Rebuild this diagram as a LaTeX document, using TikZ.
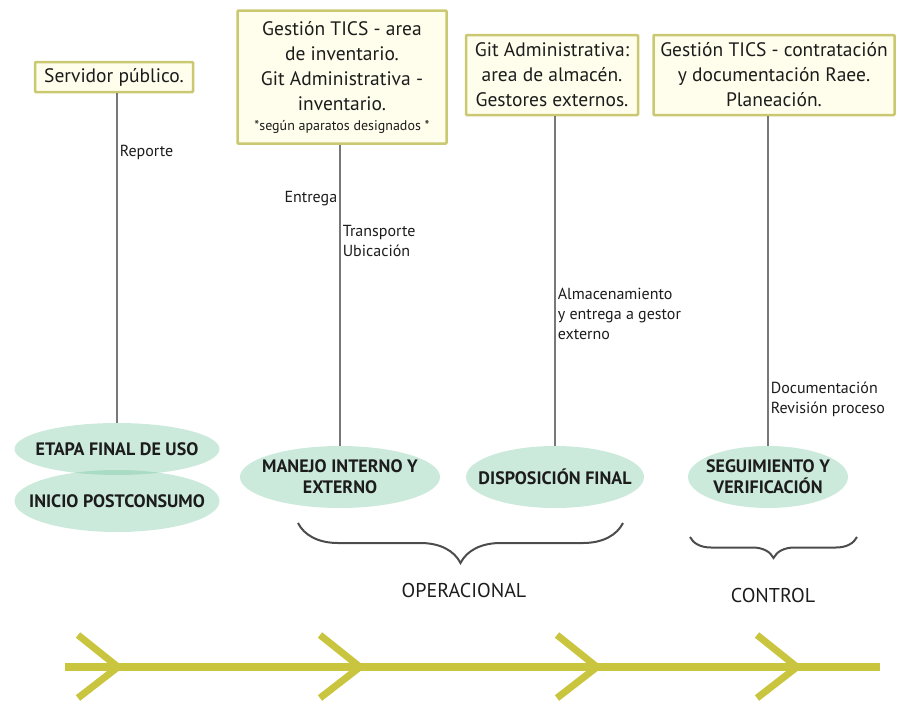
\documentclass[tikz,border=0pt]{standalone}
\usepackage{fontspec}
\setmainfont{PT Sans}
\usetikzlibrary{shapes.geometric, decorations.pathreplacing}

\definecolor{boxline}{RGB}{202,200,112}
\definecolor{boxfill}{RGB}{255,254,236}
\definecolor{mint}{RGB}{100,190,145}
\definecolor{spinecol}{RGB}{201,197,62}
\definecolor{ink}{RGB}{28,28,28}
\definecolor{wire}{RGB}{120,120,120}

\tikzstyle{actor} = [rectangle, rounded corners=1pt, draw=boxline, line width=2.5pt, fill=boxfill, text=ink, align=center, inner sep=2pt, font=\fontsize{19.5}{25}\selectfont]
\tikzstyle{stage} = [ellipse, fill=mint, fill opacity=0.33, text opacity=1, text=ink, align=center, inner xsep=-24pt, inner ysep=-14pt, font=\bfseries\fontsize{18}{21}\selectfont]
\tikzstyle{wirelabel} = [text=ink, align=left, font=\fontsize{16}{20}\selectfont, inner sep=2pt]
\tikzstyle{conn} = [draw=wire, line width=1.6pt]
\tikzstyle{bracket} = [draw=black!70, line width=2pt, decorate]
\tikzstyle{spine} = [draw=spinecol, line width=8pt]

\begin{document}
\begin{tikzpicture}[x=1pt, y=-1pt]
\useasboundingbox (0,0) rectangle (897,702);

% Responsables
\node (servidor) [actor, minimum width=158pt, minimum height=30pt] at (114,77) {Servidor público.};
\node (ticsinv) [actor, minimum width=209pt, minimum height=133pt] at (342,77) {Gestión TICS - area\\de inventario.\\Git Administrativa -\\inventario.\\[-5pt]{\fontsize{14}{16}\selectfont *según aparatos designados *}};
\node (gitalm) [actor, minimum width=172pt, minimum height=80pt] at (552,75) {Git Administrativa:\\area de almacén.\\Gestores externos.};
\node (ticscont) [actor, minimum width=241pt, minimum height=80pt] at (774,75) {Gestión TICS - contratación\\y documentación Raee.\\Planeación.};

% Etapas
\node (etapa) [stage, minimum width=205pt, minimum height=52pt] at (117,449) {ETAPA FINAL DE USO};
\node (inicio) [stage, minimum width=205pt, minimum height=62pt] at (117,501) {INICIO POSTCONSUMO};
\node (manejo) [stage, minimum width=200pt, minimum height=62pt] at (340,477) {MANEJO INTERNO Y\\EXTERNO};
\node (disposicion) [stage, minimum width=178pt, minimum height=62pt] at (555,477) {DISPOSICIÓN FINAL};
\node (seguimiento) [stage, minimum width=160pt, minimum height=62pt] at (768,477) {SEGUIMIENTO Y\\VERIFICACIÓN};

% Lines
\draw [conn] (etapa.north |- servidor.south) -- node[wirelabel, pos=0.18, anchor=west] {Reporte} (etapa.north);
\draw [conn] (manejo.north |- ticsinv.south) -- node[wirelabel, pos=0.18, anchor=east] {Entrega}
  node[wirelabel, pos=0.32, anchor=west] {Transporte\\Ubicación} (manejo.north);
\draw [conn] (disposicion.north |- gitalm.south) -- node[wirelabel, pos=0.60, anchor=west] {Almacenamiento\\y entrega a gestor\\externo} (disposicion.north);
\draw [conn] (seguimiento.north |- ticscont.south) -- node[wirelabel, pos=0.86, anchor=west] {Documentación\\Revisión proceso} (seguimiento.north);

% Braces
\draw [bracket, decoration={brace, mirror, amplitude=40pt}] (298,523) -- (623,523);
\draw [bracket, decoration={brace, mirror, amplitude=21pt}] (690,537) -- (857,537);
\node (operacional) [text=ink, font=\fontsize{20}{22}\selectfont] at (464,590) {OPERACIONAL};
\node (control) [text=ink, font=\fontsize{20}{22}\selectfont] at (773,595) {CONTROL};

% Spine
\draw [spine] (65,667) -- (880,667);
\foreach \t in {118,360,597,797}
  \draw [spine, line width=7pt] (\t-40,635) -- (\t,667) -- (\t-40,698);

\end{tikzpicture}
\end{document}
